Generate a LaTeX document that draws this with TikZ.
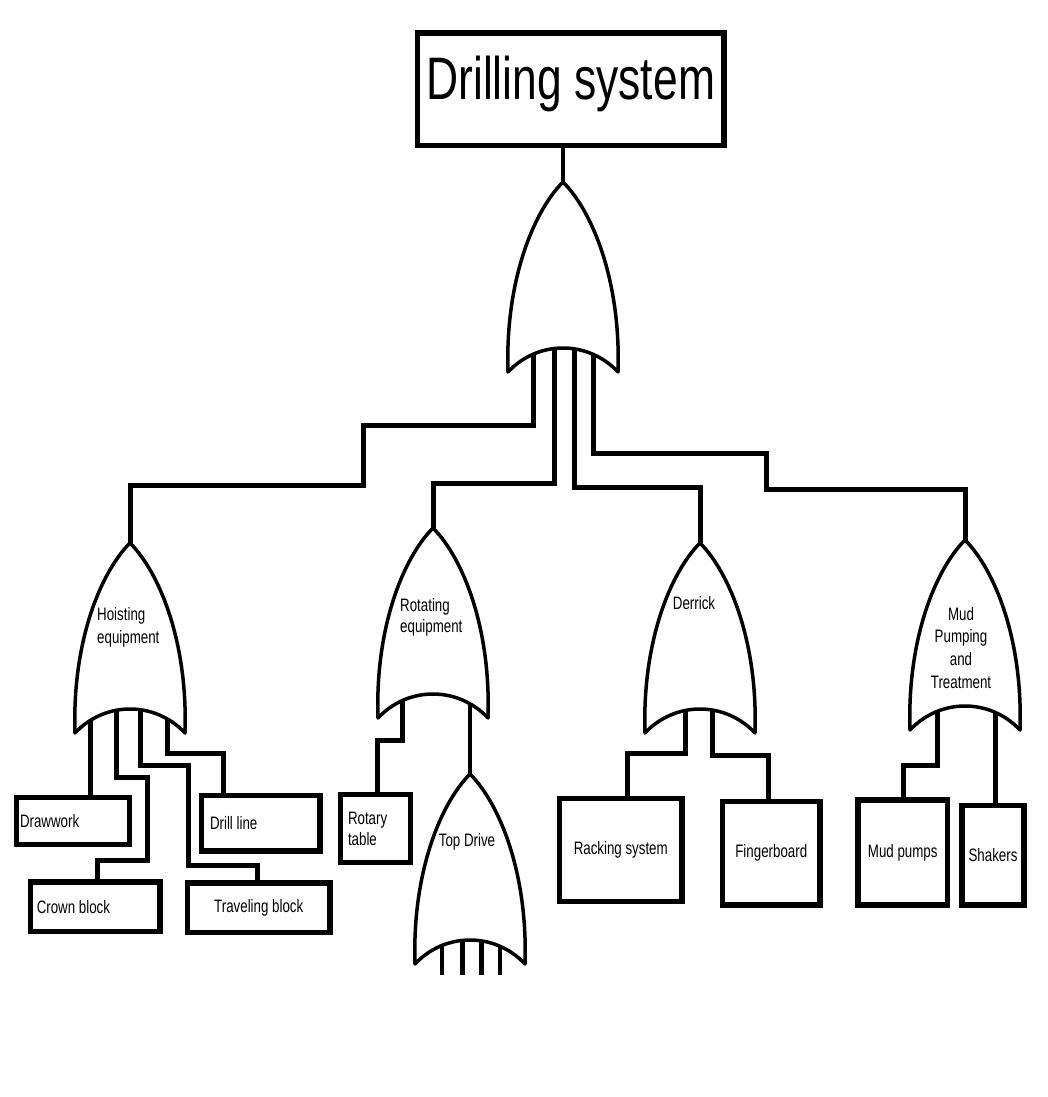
\documentclass[tikz,border=0pt]{standalone}
\usepackage{fontspec}
\setmainfont[FakeStretch=0.74]{Liberation Sans}
\usetikzlibrary{calc}
\newcommand\orgateshape[1]{%
  \draw[gateline, shift={(#1)}] (0,0) .. controls (-30,30) and (-58,100) .. (-55,190)
    .. controls (-25,158) and (25,158) .. (55,190)
    .. controls (58,100) and (30,30) .. (0,0) -- cycle;}
\begin{document}
\begin{tikzpicture}[x=1pt,y=-1pt,
  wire/.style={line width=5pt, line join=miter},
  thinwire/.style={line width=3.5pt},
  gateline/.style={draw, line width=3.5pt, fill=white, line join=round},
  box/.style={draw, line width=5.5pt, rectangle, inner sep=0pt, outer sep=0pt,
    font=\fontsize{18}{21}\selectfont},
  lbl/.style={inner sep=0pt, font=\fontsize{18}{23}\selectfont},
]
\fill[white] (0,0) rectangle (1047,1097);
\useasboundingbox (0,0) rectangle (1047,1097);

% gate apex coordinates
\coordinate (gtop)   at (563,182);
\coordinate (ghoist) at (130,543);
\coordinate (grot)   at (433,528);
\coordinate (gder)   at (700,543);
\coordinate (gmud)   at (965,540);
\coordinate (gtd)    at (470,774);

% boxes
\node[box, minimum width=306.5pt, minimum height=112.5pt, text height=43pt, text depth=21.5pt,
  font=\fontsize{60}{60}\selectfont] (top) at (570.75,89.25) {Drilling system};
\node[box, minimum width=113pt, minimum height=47pt, text width=106pt, inner xsep=3.5pt, align=flush left]
  (drawwork) at (73,821) {Drawwork};
\node[box, minimum width=118.5pt, minimum height=55.5pt, text width=101.5pt, inner xsep=8.5pt, align=flush left]
  (drill) at (260.75,823.25) {Drill line};
\node[box, minimum width=129.5pt, minimum height=49.5pt, text width=117pt, inner xsep=6.25pt, align=flush left]
  (crown) at (95.25,906.75) {Crown block};
\node[box, minimum width=142.5pt, minimum height=49.5pt] (travel) at (258.75,907.75) {Traveling block};
\node[box, minimum width=70pt, minimum height=68pt, text width=55pt, inner xsep=7.5pt, align=flush left]
  (rotary) at (375.5,828.5) {Rotary\\table};
\node[box, minimum width=122.5pt, minimum height=103pt] (racking) at (620.75,850) {Racking system};
\node[box, minimum width=97.5pt, minimum height=103.5pt] (finger) at (771.25,853.25) {Fingerboard};
\node[box, minimum width=89.5pt, minimum height=105pt] (mudp) at (902.75,852.5) {Mud pumps};
\node[box, minimum width=62pt, minimum height=99.5pt] (shakers) at (993,855.25) {Shakers};

% connectors
\draw[thinwire] (top.south -| gtop) -- (gtop);

\draw[wire] ($(gtop)+(-30,160)$) |- (363,425) |- (130,485) -- (ghoist);
\draw[wire] ($(gtop)+(-9,160)$) |- (433,483) -- (grot);
\draw[wire] ($(gtop)+(11,160)$) |- (700,487) -- (gder);
\draw[wire] ($(gtop)+(30,160)$) |- (766,453) |- (965,489) -- (gmud);

\draw[wire] ($(ghoist)+(-40,150)$) coordinate (h1) -- (h1 |- drawwork.north);
\draw[wire] ($(ghoist)+(-14,150)$) |- (147,777) |- (97,860) coordinate (h2) -- (h2 |- crown.north);
\draw[wire] ($(ghoist)+(10,150)$) |- (188,765) |- (257,865) coordinate (h3) -- (h3 |- travel.north);
\draw[wire] ($(ghoist)+(37,150)$) |- (223,753) coordinate (h4) -- (h4 |- drill.north);

\draw[wire] ($(grot)+(-31,150)$) |- (377,740) coordinate (r1) -- (r1 |- rotary.north);
\draw[thinwire] ($(grot)+(37,150)$) -- (gtd);

\foreach \dx/\n/\w in {-28/1/3.5pt,-8/2/5pt,11/3/5pt,30/4/3.5pt}{
  \coordinate (tdin\n) at ($(gtd)+(\dx,201)$);
  \draw[line width=\w] ($(gtd)+(\dx,150)$) -- (tdin\n);
}

\draw[wire] ($(gder)+(-15,150)$) |- (627,753) coordinate (d1) -- (d1 |- racking.north);
\draw[wire] ($(gder)+(12,150)$) |- (768,755) coordinate (d2) -- (d2 |- finger.north);

\draw[wire] ($(gmud)+(-28,150)$) |- (903,765) coordinate (m1) -- (m1 |- mudp.north);
\draw[wire] ($(gmud)+(30,150)$) coordinate (m2) -- (m2 |- shakers.north);

% gates
\orgateshape{gtop}
\orgateshape{ghoist}
\orgateshape{grot}
\orgateshape{gder}
\orgateshape{gmud}
\orgateshape{gtd}

% gate labels
\node[lbl, anchor=north west, align=flush left] (lhoist) at (97,607) {Hoisting\\equipment};
\node[lbl, anchor=north west, align=flush left, font=\fontsize{18}{21}\selectfont] (lrot) at (400,598) {Rotating\\equipment};
\node[lbl, anchor=north] (lder) at (694,596) {Derrick};
\node[lbl, anchor=north, align=center, font=\fontsize{18}{22.7}\selectfont] (lmud) at (961,607) {Mud\\Pumping\\and\\Treatment};
\node[lbl, anchor=north] (ltd) at (467,833) {Top Drive};
\end{tikzpicture}
\end{document}
